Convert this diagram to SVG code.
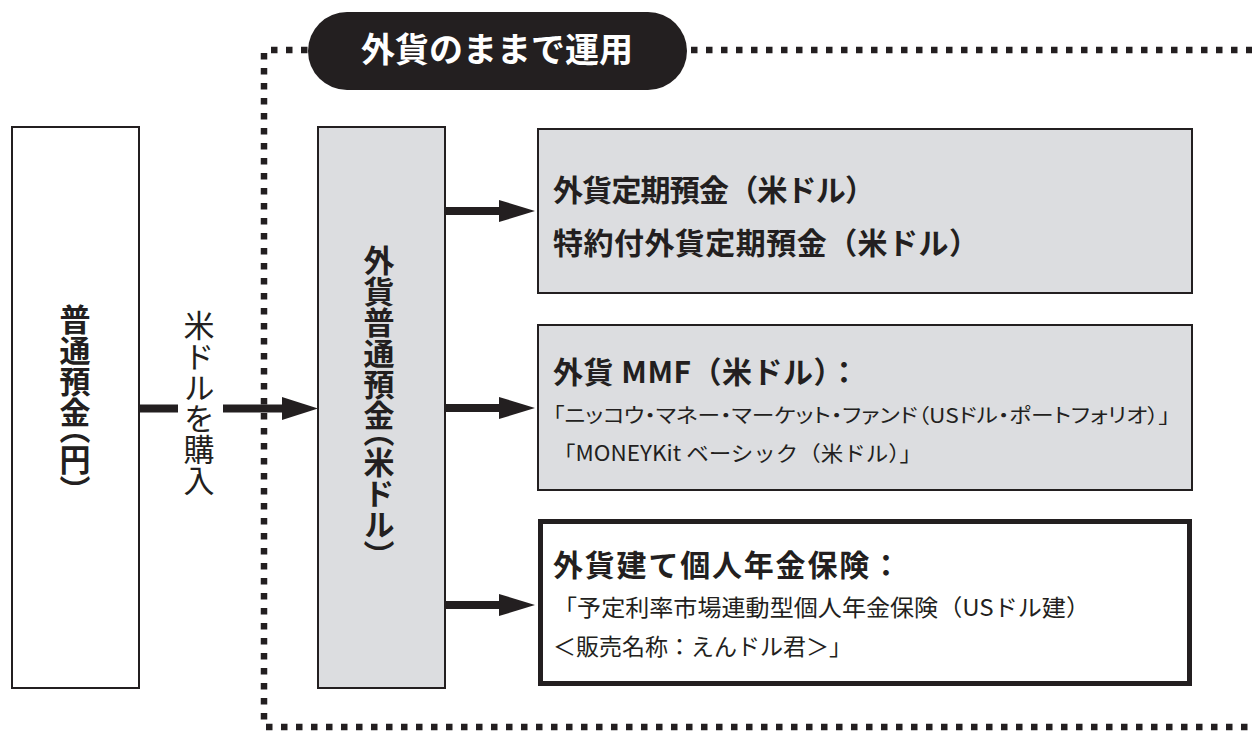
<svg xmlns="http://www.w3.org/2000/svg" width="1252" height="731" viewBox="0 0 1252 731">
<style>
.jp{font-family:"Noto Sans CJK JP","Noto Sans CJK SC",sans-serif;fill:#231f20}
.b{font-weight:700}
.p{font-feature-settings:"palt" 1}
.vt{writing-mode:vertical-rl;font-feature-settings:"vhal" 1}
.dots{fill:none;stroke:#231f20;stroke-width:6.5;stroke-dasharray:6.5 8.5}
.gray{fill:#dcdde0;stroke:#231f20;stroke-width:2}
.ln{stroke:#231f20;stroke-width:8;fill:none}
.hd{fill:#231f20}
</style>
<rect width="1252" height="731" fill="#fff"/>
<g id="frame">
<path class="dots" d="M271 50H1252"/>
<path class="dots" d="M264 53V724"/>
<path class="dots" d="M266 727H1252"/>
<rect x="308" y="12" width="379" height="78" rx="39" fill="#231f20"/>
<text class="jp b" x="497" y="62" font-size="34" text-anchor="middle" style="fill:#fff">外貨のままで運用</text>
</g>
<g id="yen">
<rect x="12" y="127" width="127" height="561" fill="#fff" stroke="#231f20" stroke-width="2"/>
<text class="jp b vt" x="75" y="397" font-size="31" text-anchor="middle">普通預金（円）</text>
</g>
<g id="usd">
<rect class="gray" x="318" y="127" width="127" height="561"/>
<text class="jp b vt" x="379" y="400" font-size="31" text-anchor="middle">外貨普通預金（米ドル）</text>
</g>
<g id="box1">
<rect class="gray" x="538" y="129" width="654" height="164"/>
<text class="jp b" x="553" y="201" font-size="30" textLength="322">外貨定期預金（米ドル）</text>
<text class="jp b" x="553" y="254" font-size="30" textLength="426">特約付外貨定期預金（米ドル）</text>
</g>
<g id="box2">
<rect class="gray" x="538" y="325" width="654" height="165"/>
<text class="jp b" x="553" y="383" font-size="30" textLength="306">外貨 MMF（米ドル）：</text>
<text class="jp p" x="553" y="423" font-size="20" textLength="617" lengthAdjust="spacingAndGlyphs">「ニッコウ・マネー・マーケット・ファンド（USドル・ポートフォリオ）」</text>
<text class="jp" x="553" y="461" font-size="21" textLength="369" lengthAdjust="spacingAndGlyphs">「MONEYKit ベーシック（米ドル）」</text>
</g>
<g id="box3">
<rect x="540.5" y="521.5" width="649" height="162" fill="#fff" stroke="#231f20" stroke-width="5"/>
<text class="jp b" x="553" y="576" font-size="30" textLength="348">外貨建て個人年金保険：</text>
<text class="jp" x="553" y="616" font-size="23" textLength="537" lengthAdjust="spacingAndGlyphs">「予定利率市場連動型個人年金保険（USドル建）</text>
<text class="jp" x="553" y="655" font-size="23" textLength="299" lengthAdjust="spacingAndGlyphs">＜販売名称：えんドル君＞」</text>
</g>
<g id="connectors">
<path class="ln" d="M139 408.5H178M223 408.5H285"/>
<polygon class="hd" points="282,397 318,408.5 282,420"/>
<text class="jp vt" x="199" y="403" font-size="31" text-anchor="middle">米ドルを購入</text>
<path class="ln" d="M445 211H502M445 408H502M445 605H502"/>
<polygon class="hd" points="499,200 535,211 499,222"/>
<polygon class="hd" points="499,397 535,408 499,419"/>
<polygon class="hd" points="499,594 535,605 499,616"/>
</g>
</svg>
